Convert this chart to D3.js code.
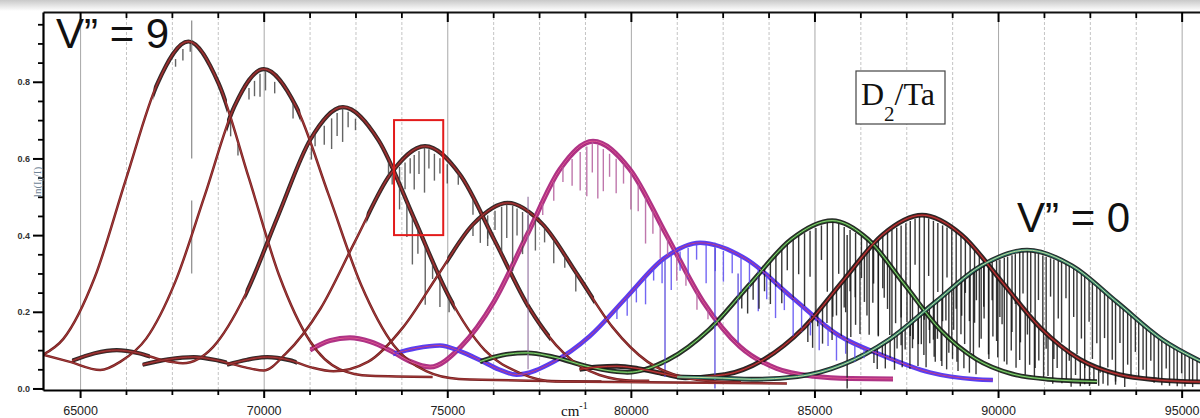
<!DOCTYPE html>
<html>
<head>
<meta charset="utf-8">
<script src="https://cdn.jsdelivr.net/npm/d3@7"></script>
<style>
  body { margin: 0; background: #fff; }
  svg { display: block; }
</style>
</head>
<body>
<div id="canvas"></div>
<script>
"use strict"

let svgWidth = 1200
let svgHeight = 418
let plotLeft = 43
let plotRight = 1200
let plotTop = 12
let plotBottom = 390

/* axis ticks */
const xMajorTicks = [65000, 70000, 75000, 80000, 85000, 90000, 95000]
const xMinorTicks = [66250, 67500, 68750, 71250, 72500, 73750, 76250, 77500, 78750,
    81250, 82500, 83750, 86250, 87500, 88750, 91250, 92500, 93750]
const yMajorTicks = [0, 0.2, 0.4, 0.6, 0.8]
const yMinorTicks = [0.05, 0.1, 0.15, 0.25, 0.3, 0.35, 0.45, 0.5, 0.55, 0.65, 0.7, 0.75, 0.85, 0.9, 0.95]

/* fitted bands, [wavenumber cm-1, ln(I0/I)] */
const fit9 = [[63990, 0.088], [64550, 0.13], [65400, 0.29], [66250, 0.546], [67100, 0.794], [67950, 0.905],
    [68775, 0.795], [69600, 0.548], [70425, 0.294], [71250, 0.125], [72075, 0.05], [72900, 0.033], [74600, 0.03]]
const fit8 = [[63990, 0.088], [64700, 0.07], [65550, 0.048], [66100, 0.07], [66800, 0.13], [67600, 0.28],
    [68400, 0.505], [69200, 0.735], [70000, 0.833], [70885, 0.735], [71770, 0.505], [72655, 0.27],
    [73540, 0.113], [74425, 0.045], [75310, 0.025], [79200, 0.018]]
const fit7 = [[64780, 0.072], [65400, 0.092], [66000, 0.1], [66600, 0.092], [67200, 0.075], [67800, 0.066],
    [68620, 0.108], [69505, 0.245], [70390, 0.45], [71275, 0.65], [72160, 0.734], [73125, 0.648],
    [74090, 0.445], [75055, 0.238], [76020, 0.1], [76985, 0.04], [77950, 0.018], [84250, 0.013]]
const fit6 = [[66700, 0.062], [67400, 0.076], [68100, 0.082], [68800, 0.072], [69500, 0.055], [70000, 0.047],
    [70595, 0.09], [71545, 0.208], [72495, 0.385], [73445, 0.558], [74395, 0.632], [75345, 0.558],
    [76295, 0.385], [77245, 0.208], [78195, 0.09], [79145, 0.035], [80095, 0.02], [80500, 0.02]]
const fit5 = [[69000, 0.062], [69550, 0.075], [70100, 0.082], [70700, 0.074], [71300, 0.055], [71900, 0.045],
    [72850, 0.07], [73800, 0.16], [74750, 0.296], [75700, 0.428], [76650, 0.484], [77600, 0.428],
    [78550, 0.296], [79500, 0.16], [80450, 0.07], [81400, 0.03], [82350, 0.018], [83000, 0.016]]
const fit4 = [[71260, 0.1], [71800, 0.125], [72350, 0.132], [72900, 0.122], [73520, 0.095], [74000, 0.07],
    [74530, 0.056], [75370, 0.109], [76270, 0.226], [77170, 0.4], [78070, 0.572], [78970, 0.645],
    [79970, 0.572], [80970, 0.4], [81970, 0.226], [82970, 0.109], [83970, 0.052], [84970, 0.032],
    [86000, 0.026], [87140, 0.025]]
const fit3 = [[73520, 0.09], [74150, 0.105], [74800, 0.112], [75350, 0.097], [75890, 0.074], [76400, 0.05],
    [76885, 0.036], [77885, 0.069], [78885, 0.137], [79885, 0.238], [80885, 0.338], [81885, 0.38],
    [83135, 0.338], [84385, 0.238], [85635, 0.14], [86885, 0.085], [88135, 0.042], [89385, 0.024], [89860, 0.022]]
const fit2 = [[75890, 0.07], [76500, 0.087], [77170, 0.093], [77900, 0.082], [78800, 0.058], [79500, 0.045],
    [79905, 0.042], [81020, 0.075], [82135, 0.154], [83250, 0.273], [84365, 0.389], [85480, 0.438],
    [86460, 0.389], [87440, 0.273], [88420, 0.154], [89400, 0.077], [90380, 0.038], [91360, 0.024], [92700, 0.018]]
const fit1 = [[78600, 0.05], [79100, 0.056], [79620, 0.058], [80200, 0.052], [80900, 0.038], [81480, 0.028],
    [82555, 0.036], [83630, 0.076], [84705, 0.158], [85780, 0.281], [86855, 0.401], [87930, 0.452],
    [89005, 0.401], [90080, 0.281], [91155, 0.158], [92230, 0.076], [93305, 0.036], [94380, 0.022], [95500, 0.017]]
const fit0 = [[81260, 0.03], [82500, 0.027], [83290, 0.024], [84540, 0.031], [85790, 0.063], [87040, 0.128],
    [88290, 0.225], [89540, 0.32], [90790, 0.361], [92015, 0.32], [93240, 0.225], [94465, 0.128], [95690, 0.063]]

/* where measured spectrum is drawn under each fit, [from, to] */
const data9 = [[67000, 69000]]
const data8 = [[69000, 71000]]
const data7 = [[64780, 66900], [69500, 75200]]
const data6 = [[66700, 69000], [72800, 77800]]
const data5 = [[69000, 70900], [75000, 79000]]
const data4 = [[71260, 87140]]
const data3 = [[73520, 89860]]
const data2 = [[75890, 92700]]
const data1 = [[78600, 95500]]
const data0 = [[81260, 95700]]

/* absorption lines, [wavenumber, depth below the band] */
const spikes9 = [[67600, 0.02], [67800, 0.03], [68000, 0.02], [69100, 0.04], [69300, 0.03]]
const spikes8 = [[69600, 0.03], [69750, 0.04], [69900, 0.06], [70050, 0.05], [70300, 0.03], [70800, 0.04], [71300, 0.03]]
const spikes7 = [[71400, 0.03], [71650, 0.05], [71850, 0.08], [72000, 0.06], [72150, 0.09], [72300, 0.04],
    [72500, 0.03], [73400, 0.04], [73700, 0.06], [73900, 0.09], [74050, 0.13], [74200, 0.07], [74400, 0.16],
    [74600, 0.05], [74800, 0.08], [75050, 0.04]]
const spikes6 = [[73500, 0.03], [73700, 0.05], [73850, 0.07], [73990, 0.04], [74100, 0.09], [74230, 0.06],
    [74380, 0.12], [74500, 0.05], [74650, 0.07], [74800, 0.04], [75000, 0.05], [75300, 0.03], [75700, 0.04], [76100, 0.03]]
const spikes5 = [[75700, 0.03], [75900, 0.06], [76100, 0.08], [76300, 0.05], [76480, 0.12], [76620, 0.09],
    [76780, 0.17], [76900, 0.07], [77050, 0.11], [77200, 0.05], [77400, 0.08], [77650, 0.04], [77900, 0.06],
    [78200, 0.03], [78500, 0.05]]
const spikes4 = [[77600, 0.03], [77900, 0.05], [78150, 0.04], [78400, 0.07], [78620, 0.1], [78800, 0.13],
    [78950, 0.08], [79100, 0.14], [79250, 0.11], [79420, 0.06], [79600, 0.09], [79800, 0.05], [80000, 0.1],
    [80200, 0.07], [80400, 0.12], [80600, 0.06], [80800, 0.09], [81000, 0.05], [81250, 0.07], [81500, 0.04],
    [81800, 0.05], [82100, 0.03]]
const spikes3 = [[79620, 0.03], [79900, 0.05], [80150, 0.04], [80400, 0.07], [80620, 0.03], [80850, 0.06],
    [81100, 0.09], [81340, 0.05], [81560, 0.08], [81790, 0.04], [82050, 0.1], [82300, 0.06], [82520, 0.08],
    [82760, 0.05], [83000, 0.09], [83230, 0.07], [83470, 0.11], [83700, 0.06], [83940, 0.09], [84180, 0.05],
    [84420, 0.1], [84650, 0.07], [84890, 0.06], [85130, 0.08], [85370, 0.05], [85600, 0.07], [85850, 0.04],
    [86100, 0.05], [86350, 0.03]]
const spikes2 = [[83020, 0.04], [83180, 0.07], [83330, 0.05], [83490, 0.09], [83640, 0.06], [83800, 0.11],
    [83950, 0.08], [84110, 0.14], [84260, 0.07], [84420, 0.16], [84570, 0.1], [84730, 0.19], [84880, 0.12],
    [85040, 0.22], [85190, 0.09], [85350, 0.18], [85500, 0.25], [85660, 0.13], [85810, 0.21], [85970, 0.16],
    [86120, 0.24], [86280, 0.11], [86430, 0.2], [86590, 0.15], [86740, 0.22], [86900, 0.1], [87050, 0.18],
    [87210, 0.13], [87360, 0.17], [87520, 0.09], [87670, 0.14], [87830, 0.11], [87980, 0.12], [88140, 0.07],
    [88290, 0.1], [88450, 0.08], [88600, 0.09], [88760, 0.05], [88910, 0.07], [89070, 0.05], [89220, 0.05], [89400, 0.04]]
const spikes1 = [[84820, 0.05], [84950, 0.08], [85090, 0.04], [85220, 0.1], [85340, 0.06], [85480, 0.12],
    [85600, 0.07], [85730, 0.14], [85850, 0.09], [85990, 0.17], [86110, 0.08], [86240, 0.19], [86360, 0.12],
    [86490, 0.22], [86610, 0.1], [86740, 0.25], [86860, 0.14], [86990, 0.2], [87110, 0.28], [87240, 0.13],
    [87360, 0.24], [87490, 0.17], [87610, 0.3], [87740, 0.12], [87860, 0.22], [87990, 0.27], [88110, 0.15],
    [88240, 0.31], [88360, 0.18], [88490, 0.25], [88610, 0.13], [88740, 0.29], [88860, 0.2], [88990, 0.26],
    [89110, 0.14], [89240, 0.28], [89360, 0.19], [89490, 0.24], [89610, 0.12], [89740, 0.23], [89860, 0.17],
    [89990, 0.21], [90110, 0.11], [90240, 0.2], [90360, 0.15], [90490, 0.18], [90610, 0.1], [90740, 0.17],
    [90860, 0.13], [90990, 0.15], [91110, 0.09], [91240, 0.13], [91360, 0.11], [91490, 0.12], [91610, 0.07],
    [91740, 0.1], [91860, 0.08], [91990, 0.09], [92110, 0.05], [92240, 0.07], [92360, 0.06], [92490, 0.06],
    [92610, 0.04], [92740, 0.05], [92860, 0.04], [92990, 0.04], [93200, 0.03], [93450, 0.03]]
const spikes0 = [[86620, 0.04], [86710, 0.06], [86850, 0.03], [86930, 0.07], [87060, 0.05], [87180, 0.09],
    [87250, 0.04], [87390, 0.1], [87470, 0.06], [87600, 0.12], [87690, 0.05], [87820, 0.13], [87910, 0.08],
    [88040, 0.15], [88130, 0.06], [88260, 0.14], [88350, 0.1], [88470, 0.18], [88580, 0.07], [88660, 0.16],
    [88790, 0.11], [88880, 0.2], [89010, 0.09], [89090, 0.17], [89220, 0.12], [89330, 0.22], [89410, 0.08],
    [89540, 0.19], [89620, 0.14], [89750, 0.25], [89840, 0.1], [89960, 0.21], [90050, 0.15], [90170, 0.27],
    [90260, 0.09], [90380, 0.2], [90470, 0.13], [90590, 0.28], [90680, 0.11], [90800, 0.22], [90890, 0.16],
    [91010, 0.3], [91100, 0.12], [91220, 0.19], [91310, 0.24], [91430, 0.1], [91520, 0.26], [91640, 0.15],
    [91730, 0.21], [91850, 0.09], [91940, 0.25], [92060, 0.13], [92150, 0.22], [92270, 0.17], [92360, 0.24],
    [92480, 0.11], [92570, 0.2], [92690, 0.15], [92780, 0.22], [92900, 0.12], [92990, 0.19], [93110, 0.16],
    [93200, 0.21], [93320, 0.1], [93410, 0.18], [93530, 0.14], [93620, 0.17], [93740, 0.09], [93830, 0.15],
    [93950, 0.12], [94040, 0.14], [94160, 0.08], [94250, 0.13], [94370, 0.11], [94460, 0.12], [94580, 0.07],
    [94670, 0.11], [94790, 0.09], [94880, 0.1], [95000, 0.06], [95090, 0.09], [95210, 0.07], [95300, 0.08], [95420, 0.06]]

/* a few long single lines, [wavenumber, top, bottom] */
const grayLines = [[68040, 0.96, 0.6], [68040, 0.49, 0.3]]
const purpleLines = [[77200, 0.5, 0.05]]
const blueLines = [[80930, 0.34, 0.03], [82290, 0.38, 0.0], [82920, 0.3, 0.12]]
const blackLines = [[85890, 0.4, 0.0]]

/* red highlight box, [x0, x1, y0, y1] */
const redBox = [73550, 74890, 0.40, 0.70]

let brown = {dataColor: "#1a1a1a", dataWidth: 4.2, spikeColor: "#4a4a4a", outer: "#752020", outerWidth: 2.5, inner: "#b54242"}

let bands = [
    Object.assign({id: 9, fit: fit9, data: data9, spikes: spikes9}, brown),
    Object.assign({id: 8, fit: fit8, data: data8, spikes: spikes8}, brown),
    Object.assign({id: 7, fit: fit7, data: data7, spikes: spikes7}, brown),
    Object.assign({id: 6, fit: fit6, data: data6, spikes: spikes6}, brown),
    Object.assign({id: 5, fit: fit5, data: data5, spikes: spikes5}, brown),
    {id: 4, fit: fit4, data: data4, spikes: spikes4, dataColor: "#a8237c", dataWidth: 5, spikeColor: "#b5609e", outer: "#a8237c", outerWidth: 1.5, inner: "#ee6a96"},
    {id: 3, fit: fit3, data: data3, spikes: spikes3, dataColor: "#4d2ff0", dataWidth: 4.6, spikeColor: "#5b4cf2", outer: "#4d2ff0", outerWidth: 1.5, inner: "#e2486a"},
    {id: 2, fit: fit2, data: data2, spikes: spikes2, dataColor: "#151515", dataWidth: 4.8, spikeColor: "#151515", outer: "#2d6a2b", outerWidth: 2.2, inner: "#a8f08c"},
    {id: 1, fit: fit1, data: data1, spikes: spikes1, dataColor: "#151515", dataWidth: 4.8, spikeColor: "#151515", outer: "#7a1a1a", outerWidth: 2.2, inner: "#d04848"},
    {id: 0, fit: fit0, data: data0, spikes: spikes0, dataColor: "#151515", dataWidth: 4.8, spikeColor: "#151515", outer: "#2b7d6c", outerWidth: 2.6, inner: "#eaf6a8"}
]

/* Create drawing canvas */
let svg = d3.select("#canvas")
    .append("svg")
    .attr("width", svgWidth)
    .attr("height", svgHeight)
    .style("background", "#fff")

let defs = svg.append("defs")

// grey shade at the very top (window edge)
let grad = defs.append("linearGradient")
    .attr("id", "topShade")
    .attr("x1", 0).attr("x2", 0).attr("y1", 0).attr("y2", 1)
grad.append("stop").attr("offset", "0%").attr("stop-color", "#c9c9c9")
grad.append("stop").attr("offset", "100%").attr("stop-color", "#ffffff")

svg.append("rect")
    .attr("x", 0).attr("y", 0)
    .attr("width", svgWidth).attr("height", 11)
    .attr("fill", "url(#topShade)")

defs.append("clipPath")
    .attr("id", "plotClip")
    .append("rect")
    .attr("x", plotLeft).attr("y", plotTop)
    .attr("width", plotRight - plotLeft).attr("height", plotBottom - plotTop)

/* Scales */
let xScale = d3.scaleLinear()
    .domain([63990, 95500])
    .range([plotLeft, plotRight])

let yScale = d3.scaleLinear()
    .domain([-0.004, 0.982])
    .range([plotBottom, plotTop])

/* grid lines */
svg.append("g")
    .attr("transform", "translate(0," + plotBottom + ")")
    .call(d3.axisBottom(xScale).tickValues(xMinorTicks).tickSize(-(plotBottom - plotTop)).tickFormat(""))
    .call(g => g.select(".domain").remove())
    .call(g => g.selectAll("line").attr("stroke", "#c4c4c4").attr("stroke-dasharray", "3,2"))

svg.append("g")
    .attr("transform", "translate(0," + plotBottom + ")")
    .call(d3.axisBottom(xScale).tickValues(xMajorTicks).tickSize(-(plotBottom - plotTop)).tickFormat(""))
    .call(g => g.select(".domain").remove())
    .call(g => g.selectAll("line").attr("stroke", "#a8a8a8"))

let plot = svg.append("g").attr("clip-path", "url(#plotClip)")

let line = d3.line()
    .x(d => xScale(d[0]))
    .y(d => yScale(d[1]))
    .curve(d3.curveMonotoneX)

// band value at a wavenumber, used to hang the absorption lines on their band
function bandValue(points, wn) {
    for (let i = 1; i < points.length; i++) {
        if (wn <= points[i][0]) {
            let a = points[i - 1], b = points[i]
            return a[1] + (wn - a[0]) / (b[0] - a[0]) * (b[1] - a[1])
        }
    }
    return points[points.length - 1][1]
}

/* measured spectra: thick noisy band under each fit */
bands.forEach(function (b) {
    let clip = defs.append("clipPath").attr("id", "dataClip" + b.id)
    b.data.forEach(function (r) {
        clip.append("rect")
            .attr("x", xScale(r[0]))
            .attr("y", plotTop)
            .attr("width", xScale(r[1]) - xScale(r[0]))
            .attr("height", plotBottom - plotTop)
    })
    plot.append("path")
        .datum(b.fit)
        .attr("d", line)
        .attr("fill", "none")
        .attr("stroke", b.dataColor)
        .attr("stroke-width", b.dataWidth)
        .attr("opacity", 0.92)
        .attr("clip-path", "url(#dataClip" + b.id + ")")
})

/* absorption lines */
bands.forEach(function (b) {
    plot.append("g")
        .selectAll("line")
        .data(b.spikes)
        .join("line")
        .attr("x1", d => xScale(d[0]))
        .attr("x2", d => xScale(d[0]))
        .attr("y1", d => yScale(bandValue(b.fit, d[0])))
        .attr("y2", d => yScale(bandValue(b.fit, d[0]) - d[1]))
        .attr("stroke", b.spikeColor)
        .attr("stroke-width", 1.4)
        .attr("opacity", 0.85)
})

function longLines(data, color, width) {
    plot.append("g")
        .selectAll("line")
        .data(data)
        .join("line")
        .attr("x1", d => xScale(d[0]))
        .attr("x2", d => xScale(d[0]))
        .attr("y1", d => yScale(d[1]))
        .attr("y2", d => yScale(d[2]))
        .attr("stroke", color)
        .attr("stroke-width", width)
}
longLines(grayLines, "#8a8a8a", 1.2)
longLines(purpleLines, "#9a7aa6", 1.2)
longLines(blueLines, "#5a4cdc", 1.3)
longLines(blackLines, "#222", 1.3)

/* fitted curves on top */
bands.forEach(function (b) {
    plot.append("path")
        .datum(b.fit)
        .attr("d", line)
        .attr("fill", "none")
        .attr("stroke", b.outer)
        .attr("stroke-width", b.outerWidth)
    plot.append("path")
        .datum(b.fit)
        .attr("d", line)
        .attr("fill", "none")
        .attr("stroke", b.inner)
        .attr("stroke-width", 0.8)
})

/* axes */
let tickFont = "'Liberation Sans', Arial, sans-serif"

// bottom
svg.append("g")
    .attr("transform", "translate(0," + plotBottom + ")")
    .call(d3.axisBottom(xScale).tickValues(xMinorTicks).tickSize(5).tickSizeOuter(0).tickFormat(""))
    .call(g => g.select(".domain").remove())
    .call(g => g.selectAll("line").attr("stroke", "#000").attr("stroke-width", 1.8))

svg.append("g")
    .attr("transform", "translate(0," + plotBottom + ")")
    .call(d3.axisBottom(xScale).tickValues(xMajorTicks).tickSize(8).tickSizeOuter(0)
        .tickPadding(8).tickFormat(d3.format("d")))
    .call(g => g.select(".domain").attr("stroke", "#000").attr("stroke-width", 2.2))
    .call(g => g.selectAll("line").attr("stroke", "#000").attr("stroke-width", 2))
    .call(g => g.selectAll("text")
        .attr("fill", "#222")
        .style("font-family", tickFont)
        .style("font-size", "12.5px"))

// top
svg.append("g")
    .attr("transform", "translate(0," + plotTop + ")")
    .call(d3.axisTop(xScale).tickValues(xMinorTicks).tickSize(-6).tickSizeOuter(0).tickFormat(""))
    .call(g => g.select(".domain").remove())
    .call(g => g.selectAll("line").attr("stroke", "#000").attr("stroke-width", 1.8))

svg.append("g")
    .attr("transform", "translate(0," + plotTop + ")")
    .call(d3.axisTop(xScale).tickValues(xMajorTicks).tickSize(-10).tickSizeOuter(0).tickFormat(""))
    .call(g => g.select(".domain").attr("stroke", "#111").attr("stroke-width", 1.8))
    .call(g => g.selectAll("line").attr("stroke", "#000").attr("stroke-width", 2))

// left
svg.append("g")
    .attr("transform", "translate(" + plotLeft + ",0)")
    .call(d3.axisLeft(yScale).tickValues(yMinorTicks).tickSize(5).tickSizeOuter(0).tickFormat(""))
    .call(g => g.select(".domain").remove())
    .call(g => g.selectAll("line").attr("stroke", "#000").attr("stroke-width", 1.8))

svg.append("g")
    .attr("transform", "translate(" + plotLeft + ",0)")
    .call(d3.axisLeft(yScale).tickValues(yMajorTicks).tickSize(10).tickSizeOuter(0)
        .tickPadding(3).tickFormat(d3.format(".1f")))
    .call(g => g.select(".domain").attr("stroke", "#000").attr("stroke-width", 2.2))
    .call(g => g.selectAll("line").attr("stroke", "#000").attr("stroke-width", 2))
    .call(g => g.selectAll("text")
        .attr("fill", "#333")
        .style("font-family", "'Liberation Sans', Arial, sans-serif")
        .style("font-weight", "bold")
        .style("font-size", "9px"))

/* axis titles */
let xTitle = svg.append("text")
    .attr("x", 561)
    .attr("y", 416)
    .attr("fill", "#111")
    .style("font-family", "'Liberation Serif', 'Times New Roman', serif")
    .style("font-size", "15px")
xTitle.append("tspan").text("cm")
xTitle.append("tspan").attr("dy", -7).style("font-size", "10px").text("-1")

let yTitle = svg.append("text")
    .attr("transform", "translate(41,182) rotate(-90)")
    .attr("text-anchor", "middle")
    .attr("fill", "#6f8496")
    .style("font-family", "'Liberation Serif', 'Times New Roman', serif")
    .style("font-size", "11px")
yTitle.append("tspan").text("ln(I")
yTitle.append("tspan").attr("dy", 3).style("font-size", "8px").text("0")
yTitle.append("tspan").attr("dy", -3).text("/I)")

/* annotations */
svg.append("text")
    .attr("x", 56)
    .attr("y", 48)
    .attr("fill", "#111")
    .style("font-family", "'Liberation Sans', Arial, sans-serif")
    .style("font-size", "42px")
    .text("V\u201D = 9")

svg.append("text")
    .attr("x", 1017)
    .attr("y", 232)
    .attr("fill", "#111")
    .style("font-family", "'Liberation Sans', Arial, sans-serif")
    .style("font-size", "42px")
    .text("V\u201D = 0")

svg.append("rect")
    .attr("x", 856)
    .attr("y", 71)
    .attr("width", 89)
    .attr("height", 53)
    .attr("fill", "#fff")
    .attr("stroke", "#444")
    .attr("stroke-width", 1.2)

let boxText = svg.append("text")
    .attr("x", 861)
    .attr("y", 105)
    .attr("fill", "#111")
    .style("font-family", "'Liberation Serif', 'Times New Roman', serif")
    .style("font-size", "32px")
boxText.append("tspan").text("D")
boxText.append("tspan").attr("dy", 16).style("font-size", "21px").text("2")
boxText.append("tspan").attr("dy", -16).text("/Ta")

svg.append("rect")
    .attr("x", xScale(redBox[0]))
    .attr("y", yScale(redBox[3]))
    .attr("width", xScale(redBox[1]) - xScale(redBox[0]))
    .attr("height", yScale(redBox[2]) - yScale(redBox[3]))
    .attr("fill", "none")
    .attr("stroke", "#e31b1b")
    .attr("stroke-width", 2)
</script>
</body>
</html>
